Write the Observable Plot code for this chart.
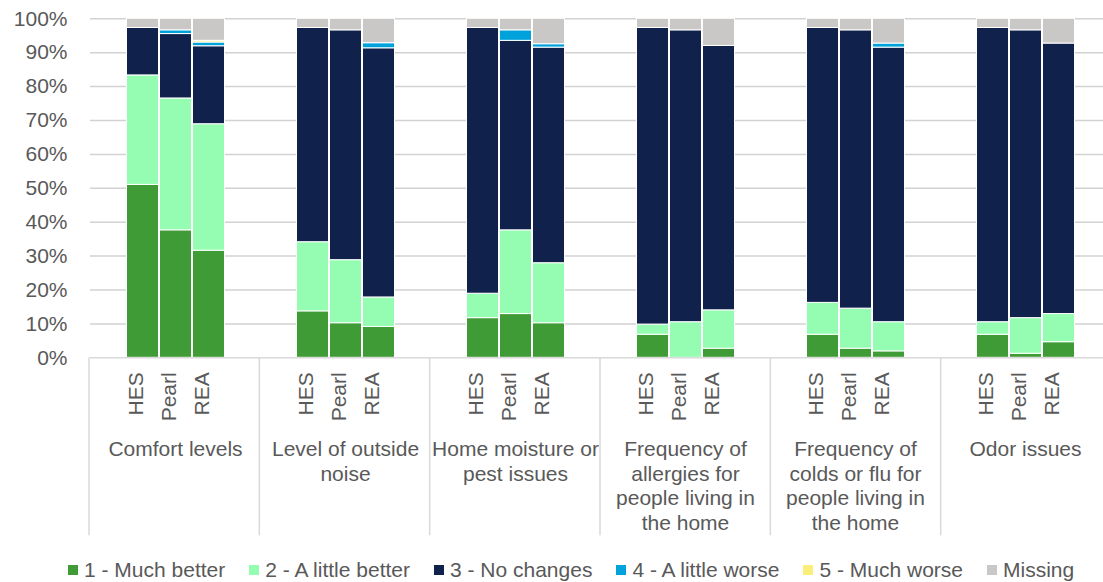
<!DOCTYPE html>
<html>
<head>
<meta charset="utf-8">
<script src="https://cdn.jsdelivr.net/npm/d3@7"></script>
<script src="https://cdn.jsdelivr.net/npm/@observablehq/plot@0.6"></script>
<style>
  html, body { margin: 0; padding: 0; background: #fff; overflow: hidden; }
  #chart { position: relative; width: 1111px; height: 582px; }
  #chart svg { max-width: none !important; display: block; }
  #legend { position: absolute; left: 68px; top: 558px; }
  .key-swatches { font: 21px "Liberation Sans", Arial, sans-serif !important; color: #595959; margin: 0 !important; min-height: 24px !important; height: 24px; align-items: center; }
  .key-swatch { margin-right: 24px !important; }
  .key-swatch > svg { margin-right: 6px !important; }
</style>
</head>
<body>
<div id="chart"><div id="legend"></div></div>
<script>
// Survey topics (multi-line labels), programs and response levels
const topics = [
  "Comfort levels",
  "Level of outside\nnoise",
  "Home moisture or\npest issues",
  "Frequency of\nallergies for\npeople living in\nthe home",
  "Frequency of\ncolds or flu for\npeople living in\nthe home",
  "Odor issues"
];
const programs = ["HES", "Pearl", "REA"];
const responses = ["1 - Much better", "2 - A little better", "3 - No changes", "4 - A little worse", "5 - Much worse", "Missing"];
const colors = ["#3f9b35", "#94fdb1", "#10224b", "#00a2dc", "#fcee7a", "#c9c8c6"];
const yTicks = [0, 10, 20, 30, 40, 50, 60, 70, 80, 90, 100];

// Share of respondents (%), ordered topic by topic, HES / Pearl / REA
const muchBetter   = [51.0, 37.6, 31.6, 13.7, 10.2, 9.1, 11.7, 12.9, 10.2, 6.8, 0.0, 2.7, 6.8, 2.7, 1.9, 6.8, 1.2, 4.6];
const littleBetter = [32.3, 38.9, 37.3, 20.4, 18.6, 8.7, 7.2, 24.7, 17.7, 3.0, 10.5, 11.3, 9.4, 11.8, 8.6, 3.7, 10.5, 8.3];
const noChanges    = [14.0, 19.0, 23.0, 63.2, 67.8, 73.5, 78.4, 55.9, 63.6, 87.5, 86.1, 78.0, 81.1, 82.1, 81.0, 86.8, 84.9, 79.8];
const littleWorse  = [0, 1.1, 1.1, 0, 0, 1.5, 0, 3.1, 1.0, 0, 0, 0, 0, 0, 1.2, 0, 0, 0];
const muchWorse    = [0, 0, 0.5, 0, 0, 0, 0, 0, 0, 0, 0, 0, 0, 0, 0, 0, 0, 0];
const missing      = [2.7, 3.4, 6.5, 2.7, 3.4, 7.2, 2.7, 3.4, 7.5, 2.7, 3.4, 8.0, 2.7, 3.4, 7.3, 2.7, 3.4, 7.3];

const series = [muchBetter, littleBetter, noChanges, littleWorse, muchWorse, missing];

// Long-format rows, stacked bottom to top in response order
const rows = [];
topics.forEach((topic, ti) => {
  programs.forEach((program, pi) => {
    const i = ti * programs.length + pi;
    series.forEach((values, ri) => {
      if (values[i] > 0) rows.push({topic, program, response: responses[ri], value: values[i]});
    });
  });
});
const programLabels = topics.flatMap(topic => programs.map(program => ({topic, program})));

const font = '"Liberation Sans", Arial, sans-serif';
const ink = "#595959";
const rule = "#d9d9d9";

const svg = Plot.plot({
  width: 1111,
  height: 545,
  marginLeft: 89,
  marginRight: 0,
  marginTop: 18.3,
  marginBottom: 187.7,
  style: {fontFamily: font, fontSize: "21px", color: ink, background: "#fff"},
  fx: {domain: topics, padding: 0, axis: null, label: null},
  x: {domain: programs, paddingInner: 0, paddingOuter: 1.035, axis: null},
  y: {domain: [0, 100], label: null},
  color: {domain: responses, range: colors},
  marks: [
    Plot.gridY({ticks: yTicks.slice(1), stroke: "#d2d2d2", strokeOpacity: 1, strokeWidth: 1.5}),
    Plot.barY(rows, {
      fx: "topic", x: "program", y: "value", fill: "response",
      stroke: "#fff", strokeWidth: 1, insetLeft: 0.5, insetRight: 0.5
    }),
    Plot.ruleY([0], {stroke: rule, strokeWidth: 1.5}),
    Plot.axisY({
      ticks: yTicks, tickFormat: d => d + "%", tickSize: 0, tickPadding: 23,
      fontSize: 21, color: ink, label: null
    }),
    Plot.text(programLabels, {
      fx: "topic", x: "program", text: "program",
      frameAnchor: "bottom", dy: 14.5, rotate: -90, textAnchor: "end",
      fontSize: 21, fill: ink
    }),
    Plot.text(topics, {
      fx: d => d, text: d => d,
      frameAnchor: "bottom", dy: 81, lineAnchor: "top", lineHeight: 1.17,
      fontSize: 21, fill: ink
    })
  ]
});

// Category dividers below the baseline, at each topic band edge
const fxScale = svg.scale("fx");
const yScale = svg.scale("y");
const band = d3.scaleBand(fxScale.domain, fxScale.range).padding(0);
const base = yScale.apply ? yScale.apply(0) : 357.3;
const edges = topics.map(t => band(t)).concat([band(topics[topics.length - 1]) + band.bandwidth()]);
d3.select(svg).append("g")
  .attr("stroke", rule)
  .attr("stroke-width", 1.5)
  .selectAll("line")
  .data(edges)
  .join("line")
  .attr("x1", d => d).attr("x2", d => d)
  .attr("y1", base).attr("y2", base + 178);

document.getElementById("chart").prepend(svg);

const legend = Plot.legend({
  color: {type: "ordinal", domain: responses, range: colors},
  legend: "swatches",
  swatchSize: 10,
  className: "key",
  style: {fontFamily: font, fontSize: "21px", color: ink}
});
document.getElementById("legend").append(legend);
</script>
</body>
</html>
